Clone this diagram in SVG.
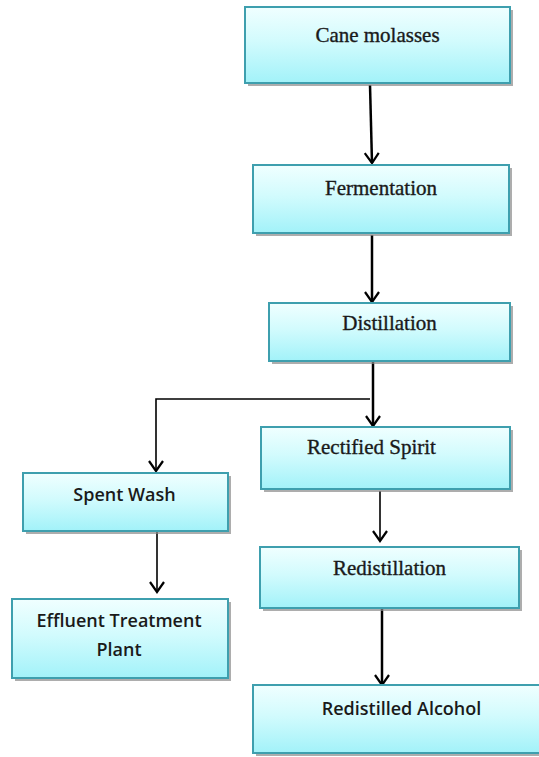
<svg xmlns="http://www.w3.org/2000/svg" width="539" height="757" viewBox="0 0 539 757">
<defs>
<linearGradient id="g" x1="0" y1="0" x2="0" y2="1">
<stop offset="0" stop-color="#f0ffff"/>
<stop offset="0.45" stop-color="#d2fbfd"/>
<stop offset="1" stop-color="#a2f2f9"/>
</linearGradient>
<marker id="ah" markerUnits="userSpaceOnUse" markerWidth="20" markerHeight="20" viewBox="0 0 20 20" refX="12" refY="10" orient="auto">
<path d="M2,3 L12,10 L2,17" fill="none" stroke="#000" stroke-width="2.2"/>
</marker>
</defs>
<style>
.box{fill:url(#g);stroke:#3e9fae;stroke-width:2}
.sh{fill:#8a8a8a;opacity:0.7}
.serif{font-family:"Liberation Serif","Times New Roman",serif;font-size:21px;fill:#1a1a1a;stroke:#1a1a1a;stroke-width:0.35}
.sans{font-family:"Open Sans","Liberation Sans",sans-serif;font-size:18px;font-weight:600;fill:#1a1a1a}
.c{fill:none;stroke:#000;stroke-width:2.5}
.t{fill:none;stroke:#000;stroke-width:1.6}
</style>
<g id="connectors">
<line class="c" x1="370" y1="85" x2="372" y2="163" marker-end="url(#ah)"/>
<line class="c" x1="372" y1="235" x2="372" y2="302" marker-end="url(#ah)"/>
<line class="c" x1="373" y1="362" x2="373" y2="426" marker-end="url(#ah)"/>
<polyline class="t" points="370,399 156,399 156,471" marker-end="url(#ah)"/>
<line class="t" x1="380" y1="491" x2="380" y2="541" marker-end="url(#ah)"/>
<line class="t" x1="157" y1="532" x2="157" y2="592" marker-end="url(#ah)"/>
<line class="c" x1="382" y1="609" x2="382" y2="685" marker-end="url(#ah)"/>
</g>
<g id="cane">
<rect class="sh" x="248" y="10" width="265" height="76"/>
<rect class="box" x="245" y="7" width="265" height="76"/>
<text class="serif" x="377.5" y="42" text-anchor="middle">Cane molasses</text>
</g>
<g id="fermentation">
<rect class="sh" x="256" y="168" width="256" height="68"/>
<rect class="box" x="253" y="165" width="256" height="68"/>
<text class="serif" x="381" y="195" text-anchor="middle">Fermentation</text>
</g>
<g id="distillation">
<rect class="sh" x="272" y="306" width="241" height="58"/>
<rect class="box" x="269" y="303" width="241" height="58"/>
<text class="serif" x="389.5" y="330" text-anchor="middle">Distillation</text>
</g>
<g id="rectified">
<rect class="sh" x="264" y="430" width="249" height="62"/>
<rect class="box" x="261" y="427" width="249" height="62"/>
<text class="serif" x="371.5" y="454" text-anchor="middle">Rectified Spirit</text>
</g>
<g id="spentwash">
<rect class="sh" x="26" y="476" width="205" height="58"/>
<rect class="box" x="23" y="473" width="205" height="58"/>
<text class="sans" x="124.5" y="501" text-anchor="middle">Spent Wash</text>
</g>
<g id="etp">
<rect class="sh" x="15" y="602" width="216" height="79"/>
<rect class="box" x="12" y="599" width="216" height="79"/>
<text class="sans" x="119" y="627" text-anchor="middle">Effluent Treatment</text>
<text class="sans" x="119" y="656" text-anchor="middle">Plant</text>
</g>
<g id="redistillation">
<rect class="sh" x="263" y="550" width="259" height="61"/>
<rect class="box" x="260" y="547" width="259" height="61"/>
<text class="serif" x="389.5" y="575" text-anchor="middle">Redistillation</text>
</g>
<g id="alcohol">
<rect class="sh" x="256" y="688" width="290" height="68"/>
<rect class="box" x="253" y="685" width="290" height="68"/>
<text class="sans" x="401.5" y="715" text-anchor="middle">Redistilled Alcohol</text>
</g>
</svg>
